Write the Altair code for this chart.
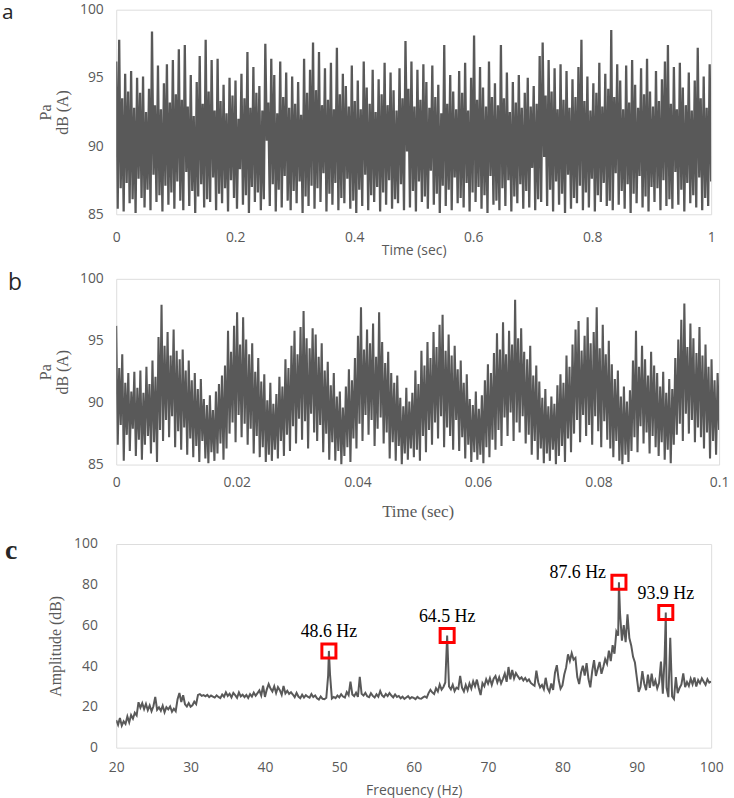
import altair as alt
import numpy as np
import pandas as pd

# ---------------------------------------------------------------------------
# (a) 1 s record: alternating upper / lower excursions of the pressure level
# ---------------------------------------------------------------------------
A_HIGH = [
    96.2, 97.8, 93.5, 95.3, 94.0, 95.5, 92.8, 95.0, 93.9, 95.1,
    92.5, 94.2, 98.4, 93.0, 95.9, 92.7, 94.6, 96.0, 93.2, 96.3,
    93.8, 97.1, 93.4, 97.4, 92.9, 95.2, 92.2, 94.7, 96.6, 93.1,
    97.8, 94.0, 96.3, 92.6, 96.4, 93.3, 94.5, 92.4, 95.0, 93.7,
    94.8, 92.0, 95.3, 93.5, 96.9, 92.8, 95.8, 93.9, 94.4, 92.6,
    97.5, 93.2, 96.4, 95.2, 92.4, 96.2, 93.6, 95.4, 92.8, 95.1,
    93.1, 94.7, 92.3, 96.4, 93.9, 95.6, 97.6, 94.1, 96.9, 93.0,
    95.7, 93.4, 96.1, 92.7, 97.2, 93.8, 95.3, 94.4, 92.9, 95.9,
    93.3, 94.8, 92.7, 96.2, 94.3, 93.1, 95.6, 92.5, 94.9, 93.8,
    96.1, 93.0, 95.4, 94.1, 92.6, 95.7, 93.5, 97.7, 94.2, 96.2,
    92.9, 95.6, 93.4, 96.0, 94.7, 92.8, 95.9, 93.6, 94.5, 92.4,
    97.4, 93.1, 95.2, 94.0, 92.7, 95.5, 93.9, 96.1, 92.6, 95.0,
    98.1, 93.4, 95.8, 94.3, 92.9, 96.2, 93.6, 94.6, 93.0, 97.4,
    93.5, 95.4, 92.5, 94.7, 93.2, 95.2, 92.8, 93.9, 95.0, 92.9,
    94.4, 93.1, 96.6, 97.6, 93.7, 96.3, 94.0, 95.7, 92.7, 96.0,
    93.4, 95.5, 92.8, 94.9, 93.6, 95.8, 97.8, 93.3, 95.1, 92.6,
    94.6, 93.9, 96.1, 92.9, 95.3, 94.2, 98.5, 93.6, 96.0, 94.8,
    92.7, 95.9, 93.2, 96.3, 94.5, 92.8, 95.7, 93.8, 96.4, 94.0,
    92.9, 95.5, 93.3, 94.9, 96.2, 97.4, 93.1, 95.8, 92.7, 96.1,
    94.3, 93.0, 95.4, 92.6, 94.8, 97.2, 93.5, 95.1, 92.8, 96.0,
]
A_LOW = [
    85.4, 86.9, 85.2, 87.3, 85.8, 86.1, 85.1, 87.6, 86.2, 85.5,
    86.8, 85.3, 87.9, 85.9, 86.4, 85.2, 87.1, 85.7, 86.6, 85.4,
    87.4, 86.0, 85.3, 88.1, 85.6, 86.7, 85.1, 86.3, 87.2, 85.5,
    86.1, 85.9, 87.7, 85.3, 86.5, 85.8, 86.9, 85.2, 87.5, 86.2,
    85.4, 88.3, 85.7, 86.4, 85.1, 87.0, 85.9, 86.6, 85.3, 86.1,
    90.4, 85.6, 87.2, 85.2, 86.8, 85.5, 87.8, 86.0, 85.3, 86.7,
    85.8, 87.4, 85.1, 86.3, 85.6, 87.1, 85.4, 86.9, 85.9, 88.0,
    85.2, 86.5, 85.7, 87.3, 85.3, 86.2, 85.8, 87.6, 85.4, 86.0,
    85.1, 86.8, 85.6, 87.9, 85.3, 86.4, 85.9, 87.0, 85.2, 86.6,
    85.7, 87.5, 85.4, 86.1, 85.8, 87.2, 85.3, 89.6, 85.5, 86.7,
    85.2, 87.4, 85.9, 86.3, 85.4, 88.2, 85.7, 86.5, 85.1, 87.1,
    85.6, 86.8, 85.3, 87.7, 85.8, 86.2, 85.5, 87.3, 85.2, 86.6,
    85.9, 87.0, 85.4, 86.4, 85.1, 87.8, 85.7, 86.0, 85.3, 86.9,
    85.6, 87.5, 85.2, 86.3, 85.8, 87.2, 85.4, 86.7, 85.5, 88.4,
    85.3, 86.1, 85.9, 89.2, 85.6, 86.8, 85.2, 87.4, 85.7, 86.5,
    85.1, 87.9, 85.4, 86.2, 85.8, 87.1, 85.3, 86.6, 85.5, 87.6,
    85.2, 86.4, 85.9, 87.3, 85.6, 86.0, 85.3, 88.0, 85.7, 86.7,
    85.4, 87.2, 85.1, 86.5, 85.8, 87.8, 85.5, 86.3, 85.2, 87.0,
    85.9, 86.9, 85.3, 87.5, 85.6, 86.1, 85.4, 88.1, 85.7, 86.8,
    85.2, 87.3, 85.8, 86.4, 85.5, 87.7, 85.3, 86.2, 85.6, 87.4,
]

# ---------------------------------------------------------------------------
# (b) first 0.1 s of the same record
# ---------------------------------------------------------------------------
B_HIGH = [
    96.2, 92.8, 93.9, 91.6, 92.4, 90.9,
    92.5, 91.2, 92.6, 90.8,
    92.9, 91.5, 93.4, 92.1,
    95.3, 97.9, 94.6, 95.7, 93.8, 95.9, 94.2,
    93.5, 94.3, 92.6, 93.4, 91.8,
    92.4, 91.1, 91.9, 90.3,
    89.8, 90.6, 89.4, 90.9,
    91.5, 92.2, 93.0,
    95.8, 94.1, 96.2, 97.3, 94.7, 96.9, 95.1, 93.9,
    94.8, 92.5, 93.6, 91.7, 92.3,
    90.2, 91.6, 89.9, 90.7,
    92.1, 91.3, 93.5, 92.8,
    94.6, 95.8, 93.9, 96.1, 97.4, 95.2, 94.4, 96.0, 95.5, 93.7,
    94.8, 92.6, 93.3, 91.4,
    92.4, 90.5, 90.9, 89.6, 91.3,
    92.7, 91.8, 93.6,
    95.4, 97.7, 94.3, 95.9, 94.8, 96.4, 93.7, 97.3, 94.9,
    93.2, 94.1, 92.4, 91.6, 92.2,
    90.4, 89.7, 91.2, 90.1, 90.8,
    92.6, 91.5, 94.2, 93.0, 94.9,
    93.6, 95.7, 94.5, 96.3, 97.1, 94.2, 95.5, 93.8, 94.6,
    92.7, 93.4, 91.6, 92.3,
    90.3, 89.8, 90.9, 89.5, 90.6,
    91.8, 93.1, 92.4, 94.0,
    95.6, 94.3, 96.5, 93.9, 95.8, 94.7, 98.3, 95.2, 96.0, 94.1,
    93.5, 94.6, 92.2, 93.0, 91.7,
    90.4, 91.1, 89.7, 90.5, 89.9, 91.4,
    92.3, 91.6, 93.8, 92.9,
    94.7, 95.9, 96.6, 94.2, 95.4, 96.9, 94.8, 95.7, 97.7, 94.4, 96.3, 93.9, 95.0,
    93.1, 91.9, 92.6,
    90.5, 91.3, 90.1, 91.0,
    93.4, 95.8, 92.9, 94.6, 93.5, 92.2, 94.1, 93.0, 92.4,
    91.3, 92.5, 90.8, 91.9, 91.1,
    93.6, 95.1, 96.7, 98.0, 94.5, 96.4, 95.2, 94.0, 96.1,
    93.8, 94.7, 92.9, 93.5, 91.8, 92.4,
]
B_LOW = [
    86.6, 88.2, 85.3, 87.4, 86.1, 87.9,
    85.7, 87.0, 85.4, 86.6,
    87.3, 85.9, 86.8, 85.2,
    87.8, 86.9, 88.6, 87.2, 88.9, 86.4, 87.7,
    86.2, 88.0, 85.8, 87.1, 85.6,
    86.5, 85.2, 86.9, 85.5,
    85.1, 86.0, 85.3, 85.9,
    86.7, 85.4, 86.3,
    87.5, 88.4, 86.8, 89.0, 87.2, 88.3, 86.6, 87.9,
    85.9, 87.3, 85.6, 86.4, 85.2,
    85.8, 85.3, 86.2, 85.5,
    86.9, 85.7, 87.4, 86.1,
    88.1, 86.7, 88.7, 87.0, 88.5, 86.3, 89.1, 87.6, 86.9, 88.2,
    86.0, 87.5, 85.4, 86.8,
    85.3, 86.1, 85.0, 85.7, 86.4,
    85.2, 87.1, 86.3,
    88.3, 86.9, 89.0, 87.4, 88.6, 86.5, 87.9, 88.8, 86.7,
    87.6, 85.5, 86.8, 85.3, 86.5,
    85.0, 85.9, 85.4, 86.3, 85.6,
    86.2, 85.3, 87.3, 86.0, 87.8,
    86.6, 88.4, 87.1, 88.9, 86.4, 88.0, 87.3, 86.2, 88.6,
    86.1, 87.2, 85.5, 86.6,
    85.2, 86.0, 85.4, 85.8, 85.1,
    86.4, 85.6, 87.0, 86.2,
    87.8, 86.5, 88.8, 87.3, 89.2, 86.9, 88.4, 87.6, 88.9, 86.7,
    87.4, 85.8, 86.9, 85.4, 86.3,
    85.1, 85.9, 85.3, 86.2, 85.0, 85.7,
    86.5, 85.2, 87.1, 86.0,
    87.5, 88.6, 86.8, 89.0, 87.3, 88.2, 86.6, 88.9, 87.7, 86.4, 88.5, 87.0, 86.3,
    85.6, 86.9, 85.3,
    85.0, 85.8, 85.2, 86.1,
    87.2, 86.0, 88.1, 86.7, 87.6, 85.9, 87.3, 86.4, 85.7,
    86.8, 85.4, 86.2, 85.1, 86.6,
    87.4, 88.3, 86.9, 89.1, 87.5, 88.6, 86.8, 88.0, 87.2,
    86.3, 87.6, 85.5, 86.9, 85.8, 87.8,
]

# ---------------------------------------------------------------------------
# (c) amplitude spectrum, 20-100 Hz in 0.25 Hz bins, plus the marked peaks
# ---------------------------------------------------------------------------
SPEC_START, SPEC_STEP = 20.0, 0.25
SPEC_AMP = [
    13.5, 11.2, 14.6, 10.8,   # 20
    12.9, 11.6, 15.3, 12.4,   # 21
    16.0, 14.2, 17.1, 15.8,   # 22
    22.3, 19.6, 21.8, 18.9,   # 23
    21.5, 18.4, 20.7, 17.9,   # 24
    20.3, 24.9, 18.6, 19.8,   # 25
    18.1, 20.6, 17.4, 19.9,   # 26
    18.8, 20.2, 17.6, 19.1,   # 27
    17.9, 23.8, 26.8, 22.4,   # 28
    25.7, 21.3, 20.2, 21.9,   # 29
    20.1, 20.8, 22.6, 21.4,   # 30
    25.9, 26.3, 25.4, 25.8,   # 31
    25.2, 25.9, 24.8, 25.6,   # 32
    25.1, 24.6, 25.7, 24.9,   # 33
    24.3, 26.1, 25.0, 27.2,   # 34
    25.4, 26.5, 24.7, 26.9,   # 35
    25.8, 24.5, 27.1, 25.2,   # 36
    26.0, 24.8, 25.9, 24.4,   # 37
    26.3, 25.1, 27.0, 25.5,   # 38
    26.8, 28.1, 25.6, 30.4,   # 39
    24.9, 28.6, 31.2, 29.0,   # 40
    27.6, 30.1, 26.8, 29.7,   # 41
    28.2, 25.9, 30.3, 26.6,   # 42
    27.9, 26.4, 27.2, 26.1,   # 43
    24.8, 26.9, 25.1, 24.3,   # 44
    26.0, 24.6, 25.8, 25.0,   # 45
    24.5, 26.3, 24.9, 25.6,   # 46
    24.2, 23.6, 25.1, 24.0,   # 47
    23.8, 24.5, 35.5, 36.0,   # 48
    24.1, 24.9, 24.3, 25.6,   # 49
    24.7, 26.2, 25.1, 24.6,   # 50
    27.3, 25.8, 32.4, 26.1,   # 51
    25.3, 27.0, 24.9, 34.8,   # 52
    26.4, 25.6, 26.9, 25.2,   # 53
    24.8, 26.7, 25.4, 24.6,   # 54
    26.2, 25.0, 27.8, 25.7,   # 55
    24.9, 26.4, 25.3, 26.8,   # 56
    25.6, 24.7, 26.1, 24.9,   # 57
    25.4, 24.2, 25.0, 23.9,   # 58
    24.6, 25.3, 24.1, 24.8,   # 59
    24.4, 23.8, 24.9, 24.2,   # 60
    24.0, 24.7, 25.2, 24.5,   # 61
    26.8, 28.4, 27.1, 26.3,   # 62
    29.2, 27.6, 31.0, 28.5,   # 63
    29.8, 32.0, 55.1, 30.0,   # 64
    28.6, 30.9, 27.8, 29.5,   # 65
    28.9, 35.2, 29.4, 27.6,   # 66
    30.8, 28.2, 31.5, 29.0,   # 67
    32.6, 30.1, 33.4, 29.3,   # 68
    25.8, 31.7, 30.2, 33.6,   # 69
    31.4, 34.1, 30.8, 33.9,   # 70
    35.2, 32.0, 34.6, 31.5,   # 71
    33.8, 36.4, 32.3, 39.6,   # 72
    33.5, 38.2, 34.0, 36.6,   # 73
    35.1, 33.7, 34.5, 33.0,   # 74
    34.2, 32.6, 33.5, 31.8,   # 75
    31.0, 30.4, 37.8, 32.1,   # 76
    29.6, 30.8, 28.7, 34.3,   # 77
    29.2, 27.4, 31.5, 28.3,   # 78
    36.8, 40.5, 33.2, 28.9,   # 79
    30.5, 35.9, 39.4, 45.8,   # 80
    42.6, 46.4, 43.2, 44.1,   # 81
    34.7, 31.2, 36.9, 40.2,   # 82
    35.4, 41.5, 33.8, 29.6,   # 83
    37.5, 43.0, 35.2, 38.8,   # 84
    42.1, 36.3, 39.6, 43.5,   # 85
    41.2, 47.6, 42.5, 50.3,   # 86
    46.1, 57.0, 55.0, 66.0,   # 87
    52.5, 60.2, 51.8, 65.5,   # 88
    53.8, 50.2, 44.6, 41.8,   # 89
    34.5, 27.4, 29.8, 37.6,   # 90
    31.5, 28.2, 35.8, 29.4,   # 91
    36.4, 30.2, 33.0, 29.1,   # 92
    31.8, 42.3, 26.5, 45.0,   # 93
    29.5, 24.8, 54.0, 25.2,   # 94
    23.9, 34.6, 26.8, 29.3,   # 95
    31.0, 36.5, 29.7, 32.2,   # 96
    30.3, 33.8, 31.1, 34.5,   # 97
    30.0, 33.2, 31.6, 34.0,   # 98
    32.4, 30.8, 33.6, 31.9,   # 99
    32.5,                     # 100
]
PEAK_FREQ = [48.6, 64.5, 87.6, 93.9]
PEAK_AMP = [47.5, 55.1, 81.2, 66.4]

# ---------------------------------------------------------------------------
# styling
# ---------------------------------------------------------------------------
INK = "#595959"
FRAME = "#a6a6a6"
SANS = "Open Sans"
SERIF = "Liberation Serif"
RED = "#ff0000"


def zigzag(highs, lows, t_end):
    vals = [v for pair in zip(highs, lows) for v in pair]
    return pd.DataFrame({"t": np.linspace(0.0, t_end, len(vals)), "v": vals})


def panel_letter(letter, x, y, font, size, weight="normal"):
    return alt.Chart(alt.Data(values=[{}])).mark_text(
        text=letter, font=font, fontSize=size, fontWeight=weight,
        color="#262626", align="left", baseline="alphabetic",
    ).encode(x=alt.value(x), y=alt.value(y))


def spacer(y):
    # transparent rule that reserves room above a panel
    return alt.Chart(alt.Data(values=[{}])).mark_rule(
        strokeOpacity=0, opacity=0
    ).encode(x=alt.value(0), x2=alt.value(1), y=alt.value(y), y2=alt.value(y))


def y_axis(values, title, title_size, label_pad, title_pad):
    return alt.Axis(
        values=values, title=title, titleFont=SERIF, titleFontSize=title_size,
        titleFontWeight="normal", titleColor=INK, titleLineHeight=17,
        titlePadding=title_pad, labelFont=SANS, labelFontSize=14,
        labelColor=INK, labelPadding=label_pad, ticks=False, domain=False,
        grid=False,
    )


def x_axis(values, fmt, title, title_font, title_size, label_pad, title_pad):
    return alt.Axis(
        values=values, format=fmt, title=title, titleFont=title_font,
        titleFontSize=title_size, titleFontWeight="normal", titleColor=INK,
        titlePadding=title_pad, labelFont=SANS, labelFontSize=14,
        labelColor=INK, labelPadding=label_pad, ticks=False, domain=False,
        grid=False, labelFlush=False,
    )


# ----- panel a -----
df_a = zigzag(A_HIGH, A_LOW, 1.0)
line_a = alt.Chart(df_a).mark_line(color=INK, strokeWidth=2.3, clip=True).encode(
    x=alt.X("t:Q", scale=alt.Scale(domain=[0, 1], nice=False),
            axis=x_axis([0, 0.2, 0.4, 0.6, 0.8, 1], "~g", "Time (sec)", SANS, 14, 16, 0)),
    y=alt.Y("v:Q", scale=alt.Scale(domain=[85, 100], nice=False),
            axis=y_axis([85, 90, 95, 100], ["Pa", "dB (A)"], 16, 13, 9)),
)
panel_a = alt.layer(line_a, panel_letter("a", -115, 9, SANS, 21)).properties(
    width=599, height=206)

# ----- panel b -----
df_b = zigzag(B_HIGH, B_LOW, 0.1)
line_b = alt.Chart(df_b).mark_line(color=INK, strokeWidth=2.1, clip=True).encode(
    x=alt.X("t:Q", scale=alt.Scale(domain=[0, 0.1], nice=False),
            axis=x_axis([0, 0.02, 0.04, 0.06, 0.08, 0.1], "~g", "Time (sec)", SERIF, 17, 11, 14)),
    y=alt.Y("v:Q", scale=alt.Scale(domain=[85, 100], nice=False),
            axis=y_axis([85, 90, 95, 100], ["Pa", "dB (A)"], 16, 13, 9)),
)
panel_b = alt.layer(line_b, panel_letter("b", -109, 11, SANS, 23)).properties(
    width=607, height=187)

# ----- panel c -----
freq = np.round(SPEC_START + SPEC_STEP * np.arange(len(SPEC_AMP)), 2)
spec = pd.DataFrame({"f": freq, "a": SPEC_AMP})
peaks = pd.DataFrame({"f": PEAK_FREQ, "a": PEAK_AMP})
peaks["label"] = [f"{f} Hz" for f in PEAK_FREQ]
spec = pd.concat([spec[~spec["f"].isin(peaks["f"])], peaks[["f", "a"]]]).sort_values("f")

x_c = alt.X("f:Q", scale=alt.Scale(domain=[20, 100], nice=False),
            axis=x_axis(list(range(20, 101, 10)), "d", "Frequency (Hz)", SANS, 14, 13, 9))
y_c = alt.Y("a:Q", scale=alt.Scale(domain=[0, 100], nice=False),
            axis=y_axis(list(range(0, 101, 20)), "Amplitude (dB)", 16, 19, 10))

line_c = alt.Chart(spec).mark_line(color=INK, strokeWidth=2, clip=True).encode(x=x_c, y=y_c)
boxes = alt.Chart(peaks).mark_point(
    shape="square", size=200, filled=False, stroke=RED, strokeWidth=3, opacity=1,
).encode(x="f:Q", y="a:Q")
labels_mid = alt.Chart(peaks).transform_filter(
    alt.datum.f != 87.6
).mark_text(font=SERIF, fontSize=18, color="black", align="center",
            baseline="alphabetic", dy=-14).encode(x="f:Q", y="a:Q", text="label:N")
labels_left = alt.Chart(peaks).transform_filter(
    alt.datum.f == 87.6
).mark_text(font=SERIF, fontSize=18, color="black", align="right",
            baseline="alphabetic", dx=-13, dy=-4).encode(x="f:Q", y="a:Q", text="label:N")

panel_c = alt.layer(
    line_c, boxes, labels_mid, labels_left,
    panel_letter("c", -112, 15, SERIF, 28, "bold"),
    spacer(-11),
).properties(width=599, height=205)

chart = alt.vconcat(panel_a, panel_b, panel_c, spacing=12).properties(
    padding={"left": 1, "top": -2, "right": 4, "bottom": 0}
).configure_view(stroke=FRAME, strokeWidth=1).configure(background="white")

chart.save("out.html", embed_options={"renderer": "svg", "actions": False})
